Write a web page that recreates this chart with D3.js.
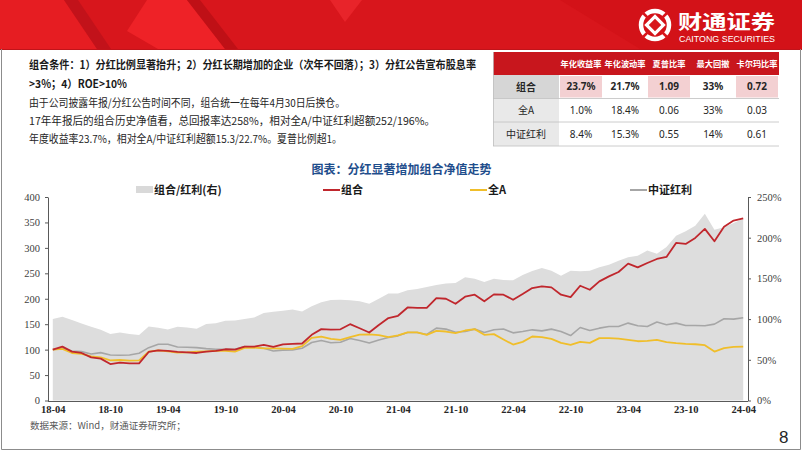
<!DOCTYPE html>
<html><head><meta charset="utf-8">
<script src="https://cdn.jsdelivr.net/npm/d3@7"></script>
<style>
html,body{margin:0;padding:0;background:#fff;}
svg{display:block;}
</style></head>
<body>
<svg id="c" width="802" height="451"></svg>
<script>
// ---------- data ----------
const months = d3.timeMonth.range(new Date(2018,3,1), new Date(2024,4,1)); // 2018-04 .. 2024-04
const portfolio = [100,105.9,96.1,93.4,84.9,82.3,71.7,74.4,73.1,73.1,95.4,98.7,97.4,95.4,94.7,93.4,96.1,97.4,100.7,100,
  105.9,105.9,109.2,105.3,110.5,111.3,112,129.1,140.3,139.3,140,150,142,133.6,148.5,162,166.5,182.9,182.2,182.2,
  201.4,200,190.2,204,208,194.9,208.6,208,198,209.2,221,224.3,222.3,207.9,203.3,225.6,217.7,234.1,244,252.6,
  269,261.7,270.3,278.2,282.2,309.7,307.7,319.6,337.3,313,341.3,353.7,358];
const allA = [100,101.3,93.4,91.5,86.9,84.9,79,79.6,78.3,79,96.1,98.7,96.7,94.1,94.7,96.1,96.7,97.4,97.4,96.1,
  103.3,103.9,102.6,102.6,102,101.5,107,123,125.5,121,119,124.5,129.5,130,128.3,124.4,128,134,134,129.1,
  137,135.6,132.3,137.6,140.3,129.1,130.4,120,110,115.3,125.8,124.4,121.2,113.3,109.4,115.3,113.3,122.5,122.5,121.8,
  119.2,116.5,117.2,119.2,114.6,112.6,111.3,110.6,108.7,96.2,102.8,105.4,106];
const dividendIdx = [100,102.6,97.4,96.1,91.5,94.1,89.5,88.8,89.5,92.8,103.9,110.5,110.5,105.3,104.6,103.9,102,100.7,100.7,100.7,
  105.9,105.3,102.6,97.4,99,99.5,102.8,114,118,113.5,114.5,122,118,113,119,124,127.1,133.6,133.6,129.7,
  142.2,140.3,134.3,135.6,140.3,133.6,139,140.6,133,135.6,138.9,136.9,140.3,135.6,127.7,143.5,137.6,142.2,145.5,145.5,
  152.1,146.8,145.5,154.1,148.8,152.1,147.5,147.5,146.8,150.1,160.6,159.9,162.5];
const ratioPct = [100,102.9,98.8,94.7,90.6,87,81.6,83.6,81.6,80.4,91,89.4,87.3,90.6,89.8,88,93.9,95,98,98.4,
  100,102,107.4,109,110.4,111.7,109.2,115.7,120.6,123.5,123.9,123.1,121.9,119,125.1,131.3,131.3,135.4,137,139.5,
  142,143.6,144.4,151.3,149.7,145.6,149.7,148,147.6,154.2,159.1,162.8,159.5,153.4,159.5,158.7,159.5,163.6,166.9,171.8,
  175.9,177.9,184.4,180.4,188.6,202.5,207.8,214.7,229.4,209.8,212.7,218,223.3];
const xTickLabels = ["18-04","18-10","19-04","19-10","20-04","20-10","21-04","21-10","22-04","22-10","23-04","23-10","24-04"];
const leftTicks = [0,50,100,150,200,250,300,350,400];
const rightTicks = [0,50,100,150,200,250];
const legendNames = ["组合/红利(右)","组合","全A","中证红利"];

const tableCols = ["年化收益率","年化波动率","夏普比率","最大回撤","卡尔玛比率"];
const tableRows = ["组合","全A","中证红利"];
const tableValues = [["23.7%","21.7%","1.09","33%","0.72"],
                     ["1.0%","18.4%","0.06","33%","0.03"],
                     ["8.4%","15.3%","0.55","14%","0.61"]];
const textLines = [
  "组合条件：1）分红比例显著抬升；2）分红长期增加的企业（次年不回落）；3）分红公告宣布股息率",
  ">3%；4）ROE>10%",
  "由于公司披露年报/分红公告时间不同，组合统一在每年4月30日后换仓。",
  "17年年报后的组合历史净值看，总回报率达258%，相对全A/中证红利超额252/196%。",
  "年度收益率23.7%，相对全A/中证红利超额15.3/22.7%。夏普比例超1。"
];

// ---------- drawing ----------
const svg = d3.select("#c");
const CJK = "'Noto Sans CJK SC','Noto Sans',sans-serif";
const SERIF = "'Liberation Serif','DejaVu Serif',serif";

// banner
const ban = svg.append("g");
ban.append("rect").attr("x",0).attr("y",0).attr("width",802).attr("height",49).attr("fill","#d8161c");
const polys = [
  {p:[[0,0],[64,0],[97,49],[0,49]], f:"#e61d22"},
  {p:[[64,0],[78,0],[111,49],[97,49]], f:"#c2121a"},
  {p:[[147,0],[187,0],[225,49],[158,49],[127,31]], f:"#ee2227"},
  {p:[[187,0],[200,0],[238,49],[225,49]], f:"#bf1016"},
  {p:[[330,0],[362,0],[345,22]], f:"#e8242a"},
  {p:[[560,0],[802,0],[802,49],[640,49]], f:"#d31218"}
];
ban.selectAll("polygon").data(polys).join("polygon")
  .attr("points",d=>d.p.map(q=>q.join(",")).join(" ")).attr("fill",d=>d.f);
ban.append("line").attr("x1",0).attr("x2",802).attr("y1",49.5).attr("y2",49.5).attr("stroke","#c0141a").attr("stroke-width",1);

// logo
const lg = svg.append("g").attr("transform","translate(655,25)");
lg.append("circle").attr("r",14).attr("fill","none").attr("stroke","#fff").attr("stroke-width",4.5);
lg.append("rect").attr("x",-6).attr("y",-6).attr("width",12).attr("height",12)
  .attr("transform","rotate(45)").attr("fill","#d8161c").attr("stroke","#fff").attr("stroke-width",3.2);
[45,135,225,315].forEach(a=>{
  lg.append("rect").attr("x",9).attr("y",-1.3).attr("width",9).attr("height",2.6)
    .attr("transform",`rotate(${a})`).attr("fill","#d8161c");
});
svg.append("text").attr("x",678).attr("y",28.5).attr("font-family",CJK).attr("font-weight","bold")
  .attr("font-size",19.5).attr("fill","#fff").attr("textLength",97).attr("lengthAdjust","spacingAndGlyphs").text("财通证券");
svg.append("text").attr("x",679).attr("y",42).attr("font-family","'Liberation Sans',Arial,sans-serif")
  .attr("font-size",8.4).attr("fill","#fff").attr("textLength",96).attr("lengthAdjust","spacingAndGlyphs").text("CAITONG SECURITIES");

// page frame
svg.append("path").attr("d","M1.5,49 V449.5 H800.5 V49").attr("fill","none").attr("stroke","#8c8c8c").attr("stroke-width",1);

// text block
const tlW = [447, 98, 316, 406, 313];
const tlY = [69, 87.5, 106.5, 125, 142.5];
textLines.forEach((t,i)=>{
  svg.append("text").attr("x",29).attr("y",tlY[i]).attr("font-family",CJK)
    .attr("font-size",11).attr("font-weight", i<2 ? "bold" : "normal")
    .attr("fill", i<2 ? "#1a1a1a" : "#262626")
    .attr("textLength",tlW[i]).attr("lengthAdjust","spacingAndGlyphs").text(t);
});

// table
const colX = [493,559,603,647,691,735,779];
const rowY = [52,75,98.5,122,146];
const tg = svg.append("g");
tg.append("rect").attr("x",colX[0]).attr("y",rowY[0]).attr("width",colX[6]-colX[0]).attr("height",rowY[1]-rowY[0]).attr("fill","#c8161d");
tableCols.forEach((c,j)=>{
  tg.append("text").attr("x",(colX[j+1]+colX[j+2])/2).attr("y",66.5).attr("text-anchor","middle")
    .attr("font-family",CJK).attr("font-weight","bold").attr("font-size",8.2).attr("fill","#fff").text(c);
});
const pink = "#f3d0d2";
tableRows.forEach((r,i)=>{
  const y0 = rowY[i+1], y1 = rowY[i+2];
  tg.append("rect").attr("x",colX[0]).attr("y",y0).attr("width",colX[1]-colX[0]).attr("height",y1-y0)
    .attr("fill", i===0 ? "#d6d6d6" : "#e9e9e9");
  tg.append("text").attr("x",(colX[0]+colX[1])/2).attr("y",(y0+y1)/2+3.8).attr("text-anchor","middle")
    .attr("font-family",CJK).attr("font-weight", i===0?"bold":"normal").attr("font-size",10).attr("fill","#262626").text(r);
  tableValues[i].forEach((v,j)=>{
    if(i===0 && j%2===0){
      tg.append("rect").attr("x",colX[j+1]+1).attr("y",y0+1).attr("width",colX[j+2]-colX[j+1]-2).attr("height",y1-y0-2).attr("fill",pink);
    }
    tg.append("text").attr("x",(colX[j+1]+colX[j+2])/2).attr("y",(y0+y1)/2+3.6).attr("text-anchor","middle")
      .attr("font-family","'Noto Sans','Liberation Sans',sans-serif").attr("font-weight", i===0?"bold":"normal")
      .attr("font-size",10).attr("fill","#262626").text(v);
  });
});
rowY.slice(2).forEach(y=>{
  tg.append("line").attr("x1",colX[0]).attr("x2",colX[6]).attr("y1",y).attr("y2",y).attr("stroke","#bfbfbf").attr("stroke-width",0.8);
});
tg.append("line").attr("x1",colX[0]+0.5).attr("x2",colX[0]+0.5).attr("y1",rowY[0]).attr("y2",rowY[4]).attr("stroke","#bfbfbf").attr("stroke-width",0.8);

// chart title
svg.append("text").attr("x",401.5).attr("y",173.5).attr("text-anchor","middle").attr("font-family",CJK)
  .attr("font-weight","bold").attr("font-size",12).attr("fill","#1f4e8c").text("图表：分红显著增加组合净值走势");

// scales
const keyFmt = d3.timeFormat("%y-%m");
const keys = months.map(keyFmt);
const x = d3.scalePoint().domain(keys).range([48,748]).padding(0.5);
const yL = d3.scaleLinear().domain([0,400]).range([400.5,197]);
const yR = d3.scaleLinear().domain([0,250]).range([400.5,197]);

// area
const area = d3.area().x((d,i)=>x(keys[i])).y0(yR(0)).y1(d=>yR(d));
svg.append("path").datum(ratioPct).attr("d",area).attr("fill","#dddddd");

// lines
const lineL = d3.line().x((d,i)=>x(keys[i])).y(d=>yL(d));
const series = [
  {v:dividendIdx, c:"#a6a6a6", w:1.6},
  {v:allA, c:"#f0be2a", w:1.8},
  {v:portfolio, c:"#c0272d", w:1.8}
];
series.forEach(s=>{
  svg.append("path").datum(s.v).attr("d",lineL).attr("fill","none").attr("stroke",s.c)
    .attr("stroke-width",s.w).attr("stroke-linejoin","round");
});

// axes
const axL = svg.append("g").attr("transform","translate(48,0)")
  .call(d3.axisLeft(yL).tickValues(leftTicks).tickSize(3).tickSizeOuter(0).tickPadding(5));
const axR = svg.append("g").attr("transform","translate(748,0)")
  .call(d3.axisRight(yR).tickValues(rightTicks).tickSize(3).tickSizeOuter(0).tickPadding(6).tickFormat(d=>d+"%"));
[axL,axR].forEach(a=>{
  a.select(".domain").attr("stroke","#595959");
  a.selectAll(".tick line").attr("stroke","#595959");
  a.selectAll("text").attr("font-family",SERIF).attr("font-size",10.5).attr("fill","#404040");
});
const axB = svg.append("g").attr("transform","translate(0,401)")
  .call(d3.axisBottom(x).tickValues(xTickLabels).tickSize(0).tickSizeOuter(0).tickPadding(5));
axB.select(".domain").attr("d","M48,0.5H748").attr("stroke","#595959");
axB.selectAll("text").attr("font-family",SERIF).attr("font-weight","bold").attr("font-size",10.5).attr("fill","#262626");

// legend
const leg = svg.append("g").attr("font-family",CJK).attr("font-size",11).attr("font-weight","bold").attr("fill","#1a1a1a");
leg.append("rect").attr("x",136).attr("y",186).attr("width",17).attr("height",7).attr("fill","#d9d9d9");
leg.append("text").attr("x",154).attr("y",194).text(legendNames[0]);
const legLines = [{x:323,c:"#c0272d",t:legendNames[1]},{x:470,c:"#f0be2a",t:legendNames[2]},{x:630,c:"#a6a6a6",t:legendNames[3]}];
legLines.forEach(l=>{
  leg.append("line").attr("x1",l.x).attr("x2",l.x+17).attr("y1",190).attr("y2",190).attr("stroke",l.c).attr("stroke-width",2);
  leg.append("text").attr("x",l.x+18).attr("y",194).text(l.t);
});

// source & page number
svg.append("text").attr("x",30).attr("y",429).attr("font-family",CJK).attr("font-size",9.5)
  .attr("fill","#595959").text("数据来源：Wind，财通证券研究所；");
svg.append("text").attr("x",779).attr("y",443).attr("font-family","'Liberation Sans',Arial,sans-serif")
  .attr("font-size",17).attr("fill","#262626").text("8");
</script>
</body></html>
